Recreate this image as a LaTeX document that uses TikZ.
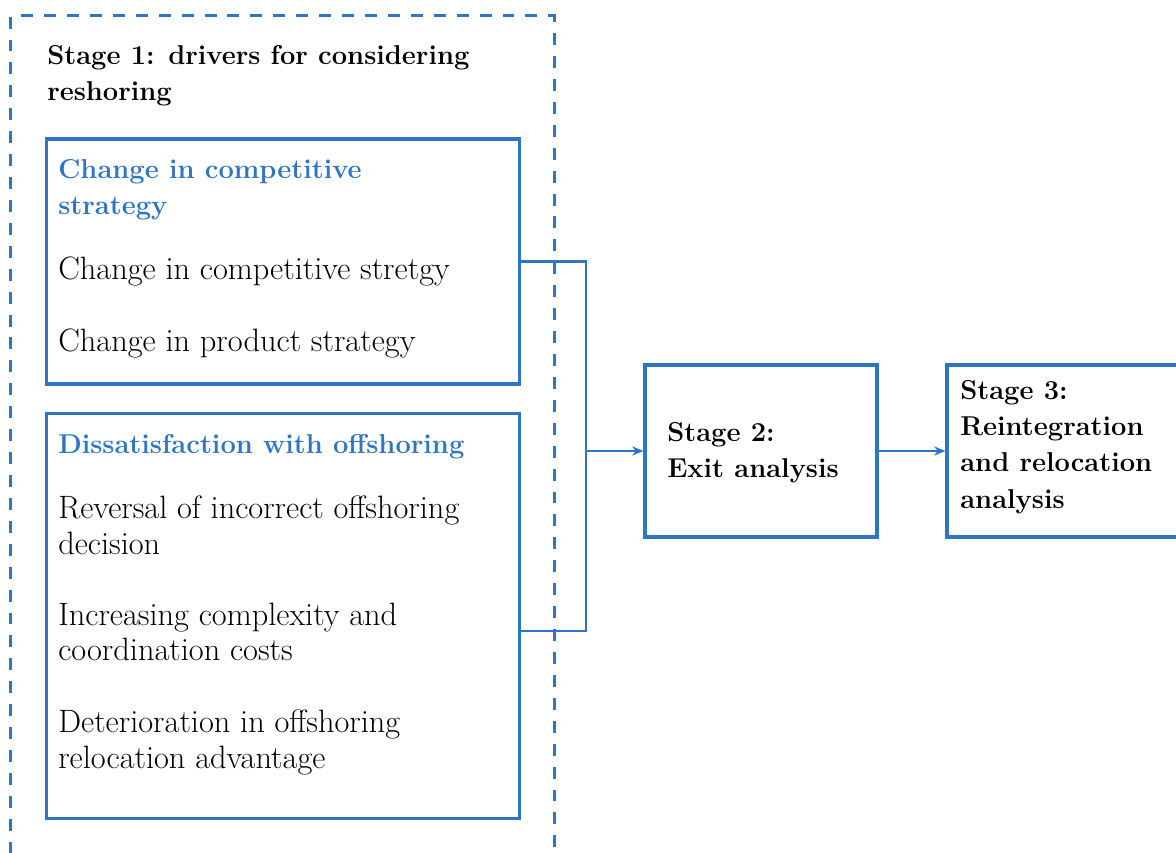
\documentclass[tikz,border=0pt]{standalone}
\usetikzlibrary{arrows.meta}
\definecolor{stageblue}{RGB}{46,117,198}
\begin{document}
\begin{tikzpicture}[x=0.025cm, y=-0.025cm,
  box/.style={draw=stageblue, line width=2.2pt, inner sep=0pt},
  frame/.style={draw=stageblue, line width=2.2pt, dash pattern=on 8.5pt off 7.8pt, inner sep=0pt},
  item/.style={anchor=north west, inner sep=0pt, align=left, font=\fontsize{23}{25}\selectfont},
  head/.style={item, font=\fontsize{19.4}{25.8}\selectfont\bfseries},
  link/.style={draw=stageblue, line width=1.7pt},
  ]
\useasboundingbox (0,0) rectangle (1176,853);
\clip (0,0) rectangle (1176,853);

% Stage 1 frame
\node[frame, minimum width=13.575cm, minimum height=22.1cm] (stage1) at (282.5,458) {};
\node[head] (title) at (47,45) {Stage 1: drivers for considering\\reshoring};

% Boxes
\node[box, minimum width=11.8cm, minimum height=6.125cm] (strategy) at (283,261.5) {};
\node[box, minimum width=11.8cm, minimum height=10.1cm] (dissat) at (283,616) {};
\node[box, minimum width=5.8cm, minimum height=4.3cm] (exit) at (761,451) {};
\node[box, minimum width=6.075cm, minimum height=4.3cm] (reint) at (1068.5,451) {};

% Texts
\node[head, text=stageblue] (stratHead) at (58,159) {Change in competitive\\strategy};
\node[item] (stratA) at (58,257) {Change in competitive stretgy};
\node[item] (stratB) at (58,329) {Change in product strategy};

\node[head, text=stageblue] (dissHead) at (58,434) {Dissatisfaction with offshoring};
\node[item] (dissA) at (58,496) {Reversal of incorrect offshoring\\decision};
\node[item] (dissB) at (58,603) {Increasing complexity and\\coordination costs};
\node[item] (dissC) at (58,710) {Deterioration in offshoring\\relocation advantage};

\node[head] (exitText) at (667,422) {Stage 2:\\Exit analysis};
\node[head] (reintText) at (960,380) {Stage 3:\\Reintegration\\and relocation\\analysis};

% Connectors
\coordinate (join) at (586,451);
\draw[link] (strategy.east) -| (join) |- ([yshift=-0.375cm]dissat.east);
\draw[link, -{Stealth[length=8pt, width=6.5pt]}] (join) -- (exit.west);
\draw[link, -{Stealth[length=8pt, width=6.5pt]}] (exit.east) -- (reint.west);

\end{tikzpicture}
\end{document}
